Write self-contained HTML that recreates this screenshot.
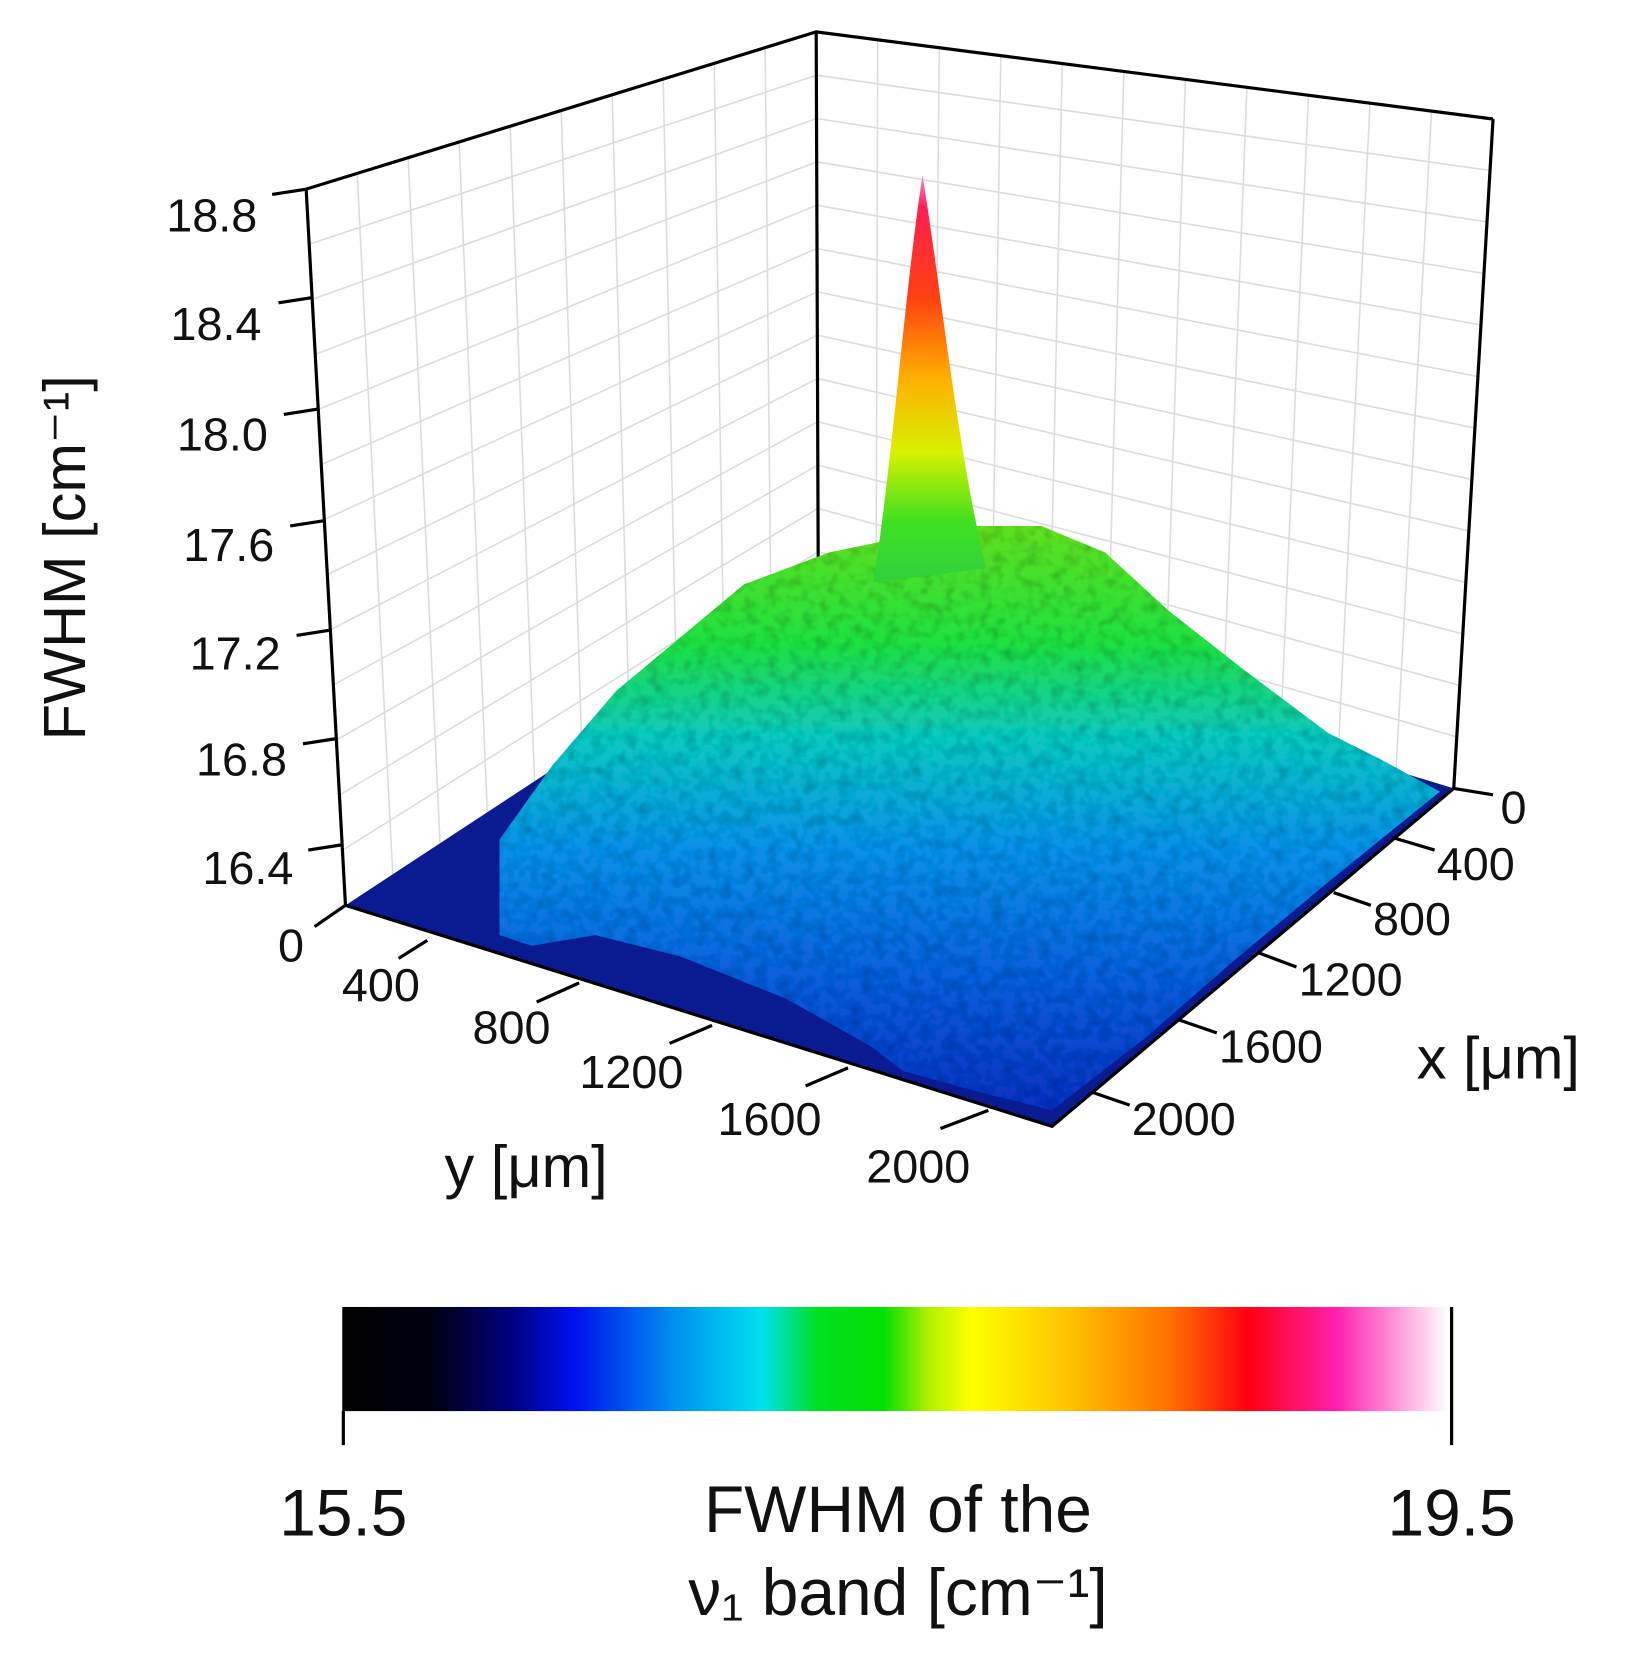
<!DOCTYPE html>
<html><head><meta charset="utf-8"><style>
html,body{margin:0;padding:0;background:#fff;}
svg{display:block;}
text{font-family:"Liberation Sans",Arial,sans-serif;fill:#111;}
</style></head><body>
<svg id="s" width="1626" height="1664" viewBox="0 0 1530 1566" xmlns="http://www.w3.org/2000/svg">
<defs>
<linearGradient id="cb" x1="0" x2="1" y1="0" y2="0">
<stop offset="0" stop-color="#000"/><stop offset="0.08" stop-color="#000010"/>
<stop offset="0.15" stop-color="#00007a"/><stop offset="0.21" stop-color="#0010f0"/>
<stop offset="0.3" stop-color="#0090f0"/><stop offset="0.38" stop-color="#00e0f0"/>
<stop offset="0.43" stop-color="#00e020"/><stop offset="0.49" stop-color="#00e000"/>
<stop offset="0.53" stop-color="#b0f000"/><stop offset="0.57" stop-color="#ffff00"/>
<stop offset="0.66" stop-color="#ffc000"/><stop offset="0.75" stop-color="#ff7000"/>
<stop offset="0.82" stop-color="#ff0010"/><stop offset="0.9" stop-color="#ff20b0"/>
<stop offset="1" stop-color="#fff"/></linearGradient>
<linearGradient id="surf" x1="0" x2="0" y1="0" y2="1">
<stop offset="0" stop-color="#60e020"/><stop offset="0.2" stop-color="#20e040"/>
<stop offset="0.36" stop-color="#10c8c0"/><stop offset="0.55" stop-color="#0a90e8"/>
<stop offset="0.8" stop-color="#0a58d8"/><stop offset="1" stop-color="#0830c0"/></linearGradient>
<linearGradient id="pk" x1="0" x2="0" y1="0" y2="1">
<stop offset="0" stop-color="#ff80d0"/><stop offset="0.08" stop-color="#ff2050"/>
<stop offset="0.3" stop-color="#ff4010"/><stop offset="0.5" stop-color="#ffb000"/>
<stop offset="0.68" stop-color="#d8f000"/><stop offset="0.85" stop-color="#40e020"/>
<stop offset="1" stop-color="#30d040"/></linearGradient>
<filter id="tex" x="0" y="0" width="1" height="1">
<feTurbulence type="fractalNoise" baseFrequency="0.09" numOctaves="2" seed="3" result="n"/>
<feColorMatrix in="n" type="matrix" values="0 0 0 0 0  0 0 0 0 0  0 0 0 0 0  0 0 0 -0.8 0.45" result="m"/>
<feComposite in="m" in2="SourceGraphic" operator="in" result="d"/>
<feMerge><feMergeNode in="SourceGraphic"/><feMergeNode in="d"/></feMerge>
</filter>
</defs>
<g id="grid" stroke="#dcdcdc" stroke-width="1.5" fill="none"></g>
<g stroke="#000" stroke-width="3" fill="none">
<polyline points="288,178 768,30 1405,112"/>
<line x1="768" y1="30" x2="770" y2="560"/>
<line x1="288" y1="178" x2="325" y2="852"/>
<line x1="1405" y1="112" x2="1368" y2="742"/>
</g>
<polygon points="325,852 770,560 1368,742 990,1060" fill="#0a1a90"/>
<g filter="url(#tex)">
<polygon points="470,790 520,720 580,650 640,600 700,550 780,520 900,495 980,495 1040,520 1100,575 1170,630 1250,690 1300,715 1355,745 1250,830 1160,905 1080,975 990,1045 930,1030 850,1008 820,985 740,940 640,900 560,880 500,890 470,880" fill="url(#surf)"/>
</g>
<path d="M822,548 C840,430 852,270 868,165 C884,260 900,420 928,535 Z" fill="url(#pk)"/>
<g stroke="#000" stroke-width="3" fill="none">
<polyline points="325,852 990,1060 1368,742"/>
</g>
<g stroke="#000" stroke-width="3">
<line x1="256" y1="183" x2="288" y2="178"/><line x1="262" y1="285" x2="294" y2="280"/>
<line x1="267" y1="390" x2="299" y2="385"/><line x1="273" y1="495" x2="305" y2="490"/>
<line x1="279" y1="598" x2="311" y2="593"/><line x1="285" y1="700" x2="317" y2="695"/>
<line x1="290" y1="800" x2="322" y2="795"/><line x1="296" y1="872" x2="325" y2="852"/>
<line x1="375" y1="902" x2="402" y2="885"/><line x1="505" y1="943" x2="545" y2="925"/>
<line x1="630" y1="982" x2="670" y2="965"/><line x1="758" y1="1022" x2="798" y2="1005"/>
<line x1="885" y1="1062" x2="930" y2="1045"/>
<line x1="1368" y1="742" x2="1405" y2="748"/><line x1="1313" y1="789" x2="1350" y2="800"/>
<line x1="1255" y1="840" x2="1290" y2="852"/><line x1="1185" y1="897" x2="1220" y2="910"/>
<line x1="1110" y1="960" x2="1145" y2="972"/><line x1="1028" y1="1028" x2="1063" y2="1040"/>
</g>
<g font-size="44" text-anchor="end">
<text x="242" y="218">18.8</text><text x="246" y="320">18.4</text>
<text x="252" y="424">18.0</text><text x="258" y="528">17.6</text>
<text x="264" y="630">17.2</text><text x="270" y="730">16.8</text>
<text x="276" y="832">16.4</text><text x="286" y="905">0</text>
<text x="395" y="942">400</text><text x="518" y="982">800</text>
<text x="643" y="1024">1200</text><text x="773" y="1068">1600</text>
<text x="913" y="1113">2000</text>
</g>
<g font-size="44" text-anchor="start">
<text x="1412" y="775">0</text><text x="1352" y="828">400</text>
<text x="1292" y="880">800</text><text x="1222" y="937">1200</text>
<text x="1147" y="1000">1600</text><text x="1065" y="1068">2000</text>
</g>
<text font-size="56" transform="translate(80,525) rotate(-90)" text-anchor="middle">FWHM [cm⁻¹]</text>
<text font-size="56" x="495" y="1117" text-anchor="middle">y [μm]</text>
<text font-size="56" x="1410" y="1015" text-anchor="middle">x [μm]</text>
<rect x="322" y="1230" width="1040" height="98" fill="url(#cb)"/>
<line x1="323" y1="1328" x2="323" y2="1360" stroke="#000" stroke-width="3"/>
<line x1="1366" y1="1230" x2="1366" y2="1360" stroke="#000" stroke-width="3"/>
<g font-size="62" text-anchor="middle">
<text x="323" y="1445">15.5</text><text x="1366" y="1445">19.5</text>
<text x="845" y="1442">FWHM of the</text>
<text x="845" y="1520">ν₁ band [cm⁻¹]</text>
</g>
</svg>
<script>
var g=document.getElementById('grid'),ns='http://www.w3.org/2000/svg';
function L(a,b){var l=document.createElementNS(ns,'line');l.setAttribute('x1',a[0]);l.setAttribute('y1',a[1]);l.setAttribute('x2',b[0]);l.setAttribute('y2',b[1]);g.appendChild(l);}
function bl(A,B,C,D,u,v){var t=[A[0]+(B[0]-A[0])*u,A[1]+(B[1]-A[1])*u],b=[D[0]+(C[0]-D[0])*u,D[1]+(C[1]-D[1])*u];return [t[0]+(b[0]-t[0])*v,t[1]+(b[1]-t[1])*v];}
function wall(A,B,C,D,n,m){for(var i=1;i<n;i++){L(bl(A,B,C,D,i/n,0),bl(A,B,C,D,i/n,1));}for(var j=1;j<m;j++){L(bl(A,B,C,D,0,j/m),bl(A,B,C,D,1,j/m));}}
wall([288,178],[768,30],[770,560],[325,852],10,13);
wall([768,30],[1405,112],[1368,742],[770,560],11,13);
wall([325,852],[770,560],[1368,742],[990,1060],11,11);
</script>
</body></html>
